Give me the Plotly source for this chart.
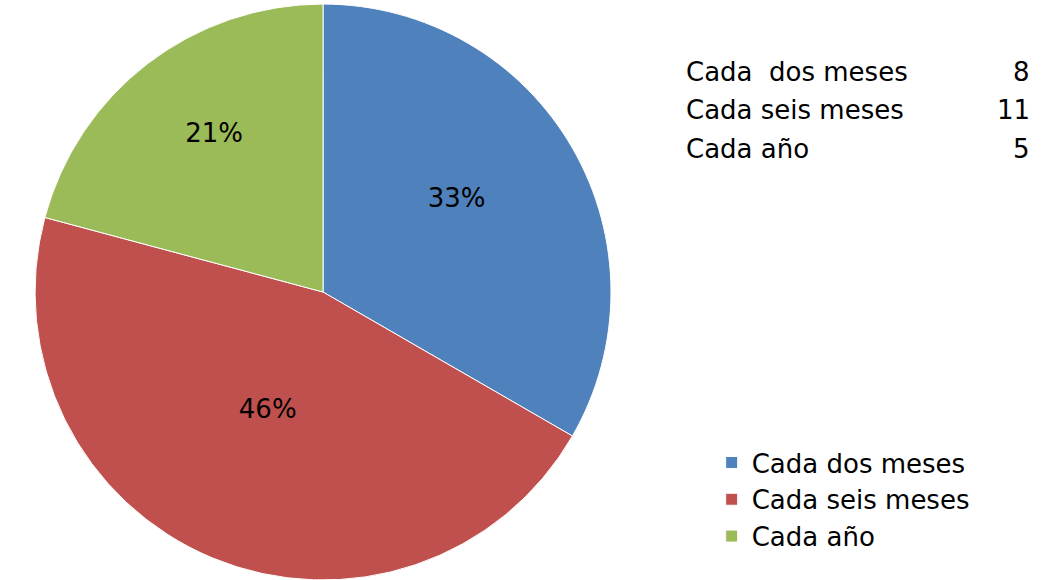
import plotly.graph_objects as go

categories = ["Cada dos meses", "Cada seis meses", "Cada año"]
table_labels = ["Cada  dos meses", "Cada seis meses", "Cada año"]
values = [8, 11, 5]
colors = ["#4F81BD", "#C0504D", "#9BBB59"]

FONT = "DejaVu Sans"
FS = 26

fig = go.Figure()
fig.add_trace(go.Pie(
    labels=categories,
    values=values,
    sort=False,
    direction="clockwise",
    rotation=0,
    marker=dict(colors=colors, line=dict(color="white", width=1)),
    texttemplate="%{percent:.0%}<br> ",
    textposition="inside",
    insidetextorientation="horizontal",
    textfont=dict(family=FONT, size=FS, color="black"),
    domain=dict(x=[0.0336, 0.5864], y=[0.0, 0.993]),
    hoverinfo="label+value+percent",
))

row_y = [72, 110, 149]
for lab, val, yp in zip(table_labels, values, row_y):
    fig.add_annotation(x=684, y=yp, xref="x", yref="y", text=lab, showarrow=False,
                       xanchor="left", yanchor="middle",
                       font=dict(family=FONT, size=FS, color="black"))
    fig.add_annotation(x=1032, y=yp, xref="x", yref="y", text=str(val), showarrow=False,
                       xanchor="right", yanchor="middle",
                       font=dict(family=FONT, size=FS, color="black"))

fig.update_layout(
    width=1042, height=580,
    margin=dict(l=0, r=0, t=0, b=0),
    paper_bgcolor="white", plot_bgcolor="rgba(0,0,0,0)",
    xaxis=dict(range=[0, 1042], visible=False, fixedrange=True),
    yaxis=dict(range=[580, 0], visible=False, fixedrange=True),
    showlegend=True,
    legend=dict(x=0.683, y=0.243, xanchor="left", yanchor="top",
                font=dict(family=FONT, size=FS, color="black"),
                bgcolor="rgba(0,0,0,0)", tracegroupgap=0),
)

fig.write_html("out.html", config={"displayModeBar": False},
               post_script="document.body.style.margin='0px';")
